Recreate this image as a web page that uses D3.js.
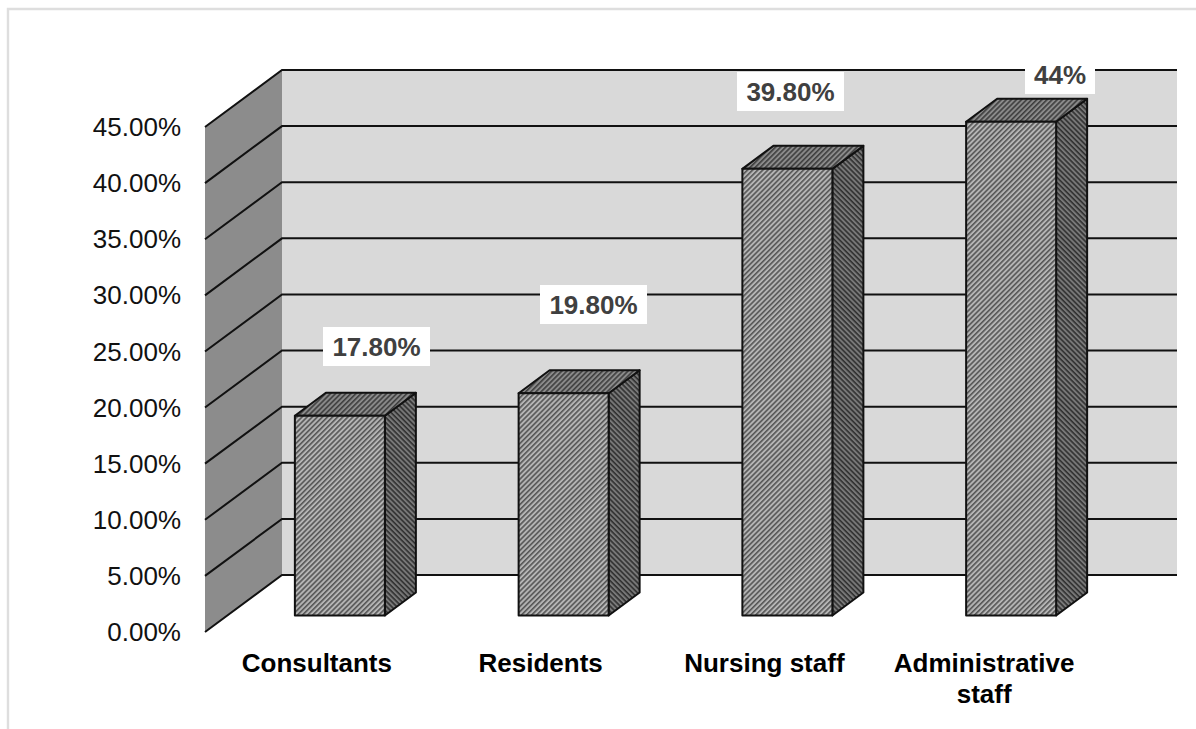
<!DOCTYPE html>
<html>
<head>
<meta charset="utf-8">
<script src="https://cdn.jsdelivr.net/npm/d3@7"></script>
<style>
  html, body { margin: 0; background: #fff; }
  text { font-family: "Liberation Sans", Arial, sans-serif; }
</style>
</head>
<body>
<div id="chart"></div>
<script>
const categories = [["Consultants"], ["Residents"], ["Nursing staff"], ["Administrative", "staff"]];
const values = [17.8, 19.8, 39.8, 44];
const valueLabels = ["17.80%", "19.80%", "39.80%", "44%"];
const ticks = [0, 5, 10, 15, 20, 25, 30, 35, 40, 45];

const width = 1196, height = 729;
const depthX = 77, depthY = 57;       // wall depth
const barDepthX = 31, barDepthY = 23; // bar depth
const barWidth = 90;

const svg = d3.select("#chart").append("svg")
    .attr("width", width)
    .attr("height", height)
    .style("display", "block");

const x = d3.scaleBand().domain(d3.range(4)).range([205, 1100]);
const y = d3.scaleLinear().domain([0, 45]).range([632, 127]);

// hatch fills
const defs = svg.append("defs");
function hatch(id, bg, fg, angle) {
    let p = defs.append("pattern")
        .attr("id", id)
        .attr("patternUnits", "userSpaceOnUse")
        .attr("width", 3.6)
        .attr("height", 3.6)
        .attr("patternTransform", `rotate(${angle})`);
    p.append("rect").attr("width", 3.6).attr("height", 3.6).attr("fill", bg);
    p.append("rect").attr("width", 3.6).attr("height", 1.6).attr("fill", fg);
}
hatch("hatch-front", "#b4b4b4", "#555", -45);
hatch("hatch-top", "#8a8a8a", "#3e3e3e", -45);
hatch("hatch-side", "#787878", "#303030", 45);

// frame, only top and left edges show in the source image
svg.append("path")
    .attr("d", "M8,729V9H1196")
    .attr("fill", "none")
    .attr("stroke", "#dedede")
    .attr("stroke-width", 2.4);

// walls
svg.append("rect")
    .attr("x", x.range()[0] + depthX)
    .attr("y", y(45) - depthY)
    .attr("width", x.range()[1] - x.range()[0])
    .attr("height", y(0) - y(45))
    .attr("fill", "#d9d9d9");

svg.append("polygon")
    .attr("points", [
        [205, y(0)], [205, y(45)],
        [205 + depthX, y(45) - depthY], [205 + depthX, y(0) - depthY]
    ].join(" "))
    .attr("fill", "#8c8c8c");

// gridlines run along the side wall, then the back wall
svg.append("g").selectAll("path")
    .data(ticks)
    .join("path")
    .attr("d", d => `M205,${y(d)}L${205 + depthX},${y(d) - depthY}H${x.range()[1] + depthX}`)
    .attr("fill", "none")
    .attr("stroke", "#111")
    .attr("stroke-width", 2);

// tick labels
svg.append("g").selectAll("text")
    .data(ticks)
    .join("text")
    .attr("x", 181)
    .attr("y", d => y(d))
    .attr("dy", "0.35em")
    .attr("text-anchor", "end")
    .attr("font-size", 26)
    .attr("fill", "#111")
    .text(d => d3.format(".2f")(d) + "%");

// bars
const barOffset = 16.5; // bars sit this far up from the front floor edge
const barLeft = i => x(i) + x.bandwidth() / 2 + 23 - barWidth / 2;
const barTop = d => y(d) - barOffset;
const barBase = y(0) - barOffset;

const bars = svg.append("g").selectAll("g")
    .data(values)
    .join("g")
    .attr("stroke", "#111")
    .attr("stroke-width", 2)
    .attr("stroke-linejoin", "round");

bars.append("polygon")
    .attr("fill", "url(#hatch-side)")
    .attr("points", (d, i) => {
        let r = barLeft(i) + barWidth;
        return [[r, barTop(d)], [r + barDepthX, barTop(d) - barDepthY],
                [r + barDepthX, barBase - barDepthY], [r, barBase]].join(" ");
    });

bars.append("polygon")
    .attr("fill", "url(#hatch-top)")
    .attr("points", (d, i) => {
        let l = barLeft(i), r = l + barWidth, t = barTop(d);
        return [[l, t], [l + barDepthX, t - barDepthY],
                [r + barDepthX, t - barDepthY], [r, t]].join(" ");
    });

bars.append("rect")
    .attr("fill", "url(#hatch-front)")
    .attr("x", (d, i) => barLeft(i))
    .attr("y", d => barTop(d))
    .attr("width", barWidth)
    .attr("height", d => barBase - barTop(d));

// value labels on white boxes
const labelX = [376.5, 593.5, 790.5, 1060];
const labelY = [346.5, 304.5, 91.5, 74.5];
const labels = svg.append("g").selectAll("g")
    .data(valueLabels)
    .join("g")
    .attr("transform", (d, i) => `translate(${labelX[i]},${labelY[i]})`);

labels.append("rect")
    .attr("x", d => d === "44%" ? -35 : -53.5)
    .attr("y", -19.5)
    .attr("width", d => d === "44%" ? 70 : 107)
    .attr("height", 39)
    .attr("fill", "#fff");

labels.append("text")
    .attr("text-anchor", "middle")
    .attr("dy", "0.35em")
    .attr("font-size", 26)
    .attr("font-weight", "bold")
    .attr("fill", "#404040")
    .text(d => d);

// category labels
const catText = svg.append("g").selectAll("text")
    .data(categories)
    .join("text")
    .attr("text-anchor", "middle")
    .attr("font-size", 26)
    .attr("font-weight", "bold")
    .attr("fill", "#000");

catText.selectAll("tspan")
    .data((d, i) => d.map(t => ({ t, i })))
    .join("tspan")
    .attr("x", d => x(d.i) + x.bandwidth() / 2 - (d.i === 3 ? 4 : 0))
    .attr("y", (d, j) => 672 + j * 31)
    .text(d => d.t);
</script>
</body>
</html>
